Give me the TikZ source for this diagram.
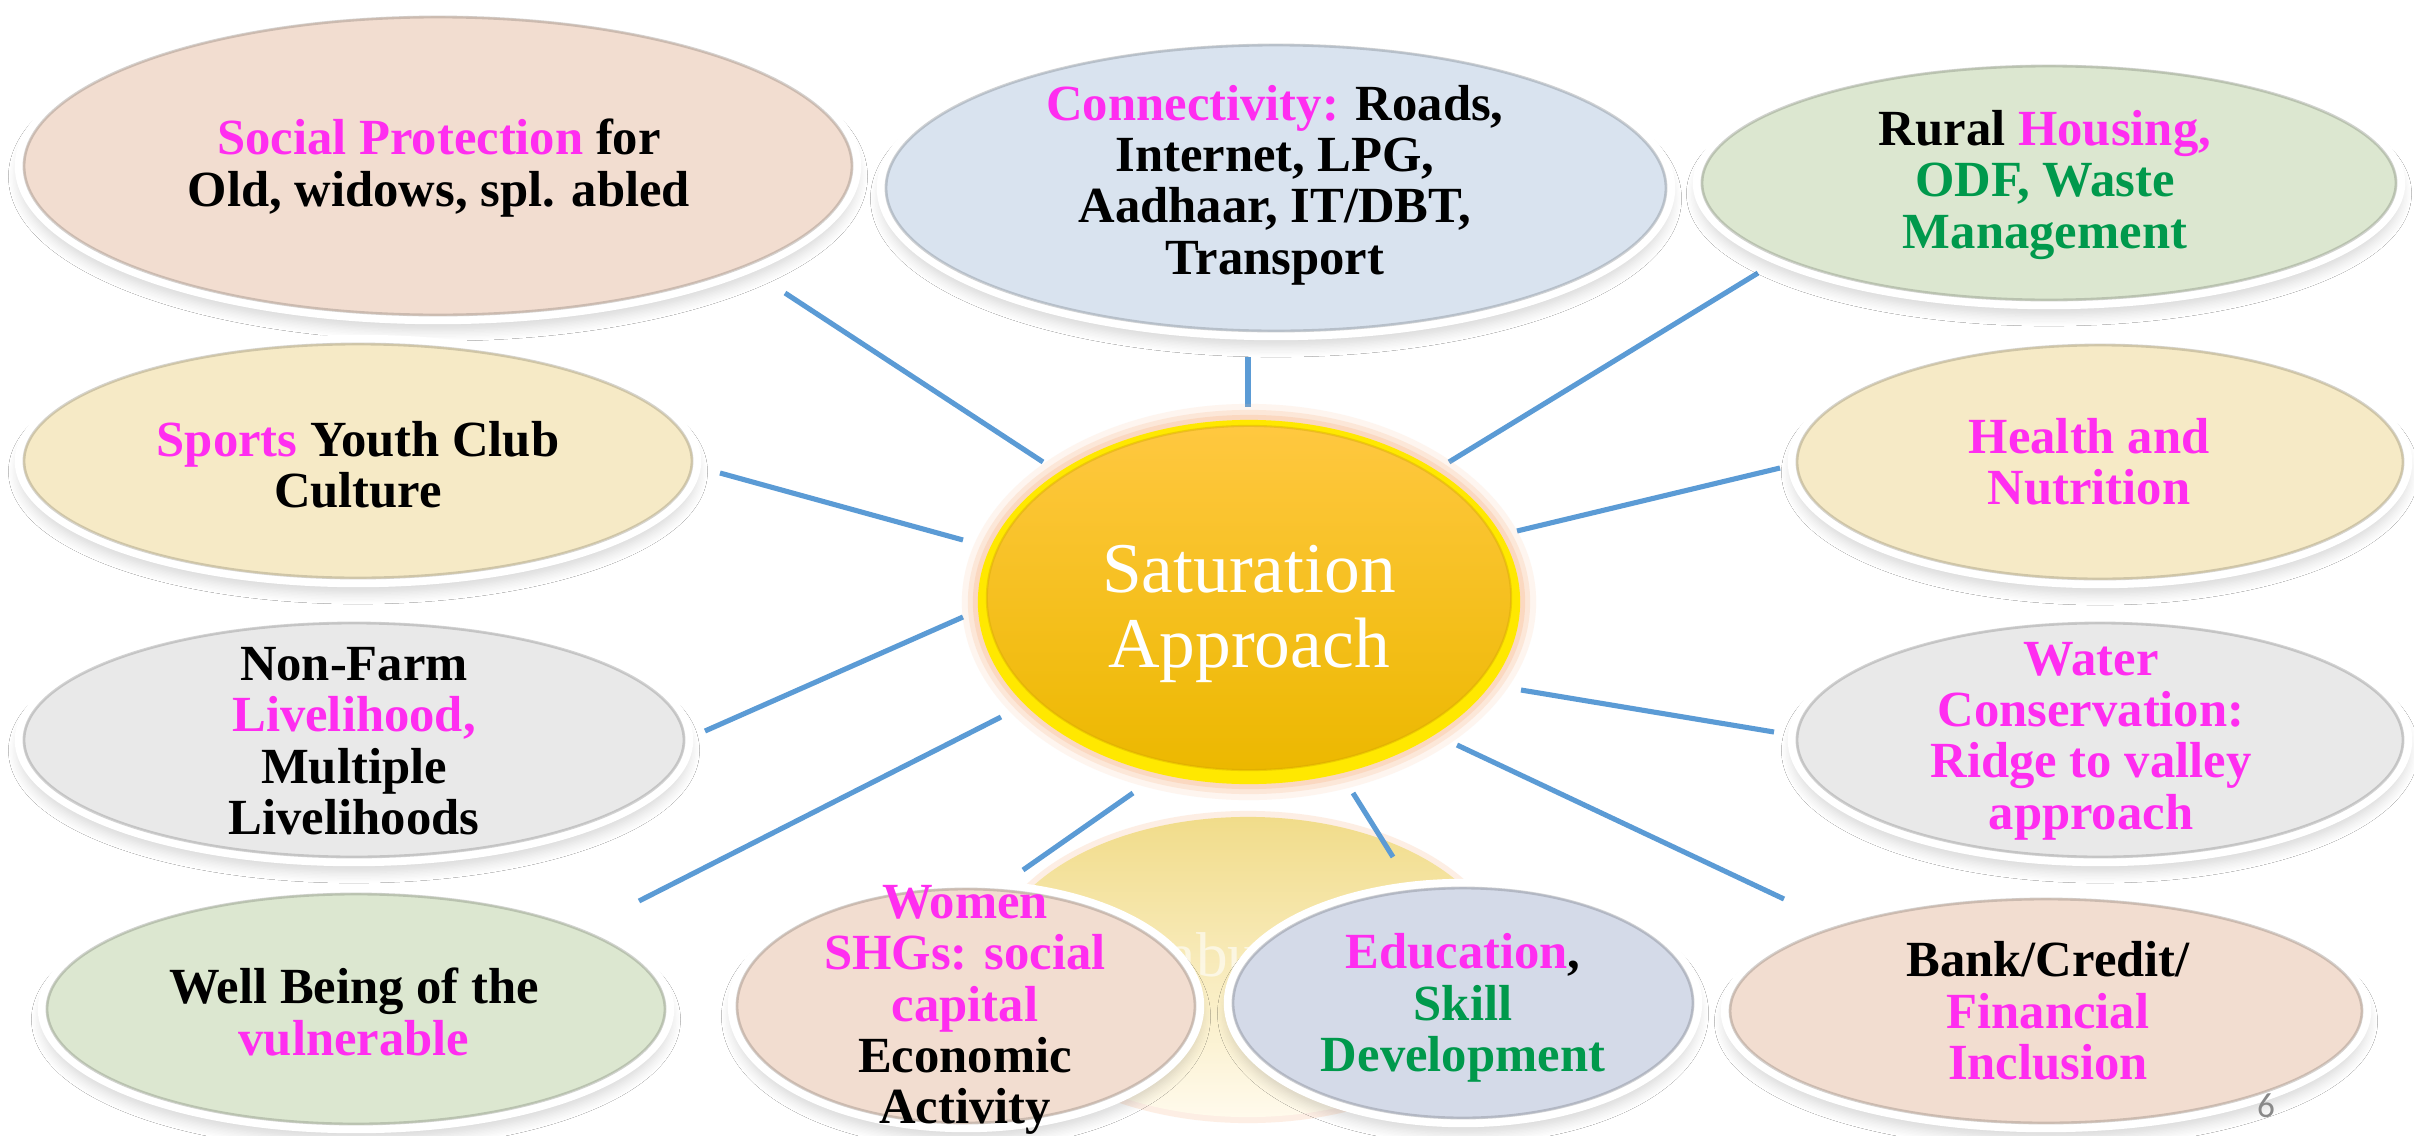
\documentclass[tikz,border=0pt]{standalone}
\usepackage{fontspec}
\setmainfont{Liberation Serif}
\newfontfamily\pnfont{Carlito}
\usetikzlibrary{shapes.geometric,shadows.blur}
\definecolor{pk}{RGB}{255,45,240}
\definecolor{gr}{RGB}{0,153,76}
\definecolor{spoke}{RGB}{91,155,213}
\definecolor{cPeach}{RGB}{242,221,208}
\definecolor{cBlue}{RGB}{217,227,239}
\definecolor{cGreen}{RGB}{220,231,208}
\definecolor{cYel}{RGB}{246,234,198}
\definecolor{cGray}{RGB}{233,233,233}
\definecolor{cEdu}{RGB}{212,218,232}
\definecolor{ringY}{RGB}{255,232,0}
\definecolor{goldTop}{RGB}{255,200,64}
\definecolor{goldBot}{RGB}{236,184,0}
\definecolor{glowC}{RGB}{250,190,150}
\definecolor{hidTop}{RGB}{241,220,138}
\definecolor{hidBot}{RGB}{255,250,236}
\definecolor{pgray}{RGB}{137,137,137}
\newcommand\pk[1]{\textcolor{pk}{#1}}
\newcommand\gr[1]{\textcolor{gr}{#1}}
\newcommand\bubble[6]{%
  \node[bubble, fill=#6, minimum width={(2*#4-8)*0.01cm}, minimum height={(2*#5-8)*0.01cm}] (#1) at (#2,#3) {};
  \node[bevel, draw=#6!55!black, minimum width={(2*#4-18)*0.01cm}, minimum height={(2*#5-18)*0.01cm}] (#1b) at (#2,#3) {};
}
\tikzset{
  bubble/.style={ellipse, draw=white, line width=2.4pt, inner sep=0pt,
    blur shadow={shadow xshift=0pt, shadow yshift=-3pt, shadow blur radius=3pt, shadow blur steps=8, shadow opacity=16}},
  bevel/.style={ellipse, line width=0.8pt, draw opacity=0.35, inner sep=0pt},
  lbl/.style={align=center, inner sep=0pt, font=\bfseries\fontsize{14.4}{14.6}\selectfont},
  spokeline/.style={draw=spoke, line width=1.45pt},
  plainell/.style={ellipse, inner sep=0pt},
}
\begin{document}
\begin{tikzpicture}[x=0.01cm,y=-0.01cm]
\useasboundingbox (0,0) rectangle (2414,1136);
\fill[white] (0,0) rectangle (2414,1136);

% faded hidden ellipse
\node[plainell, fill=glowC, opacity=0.25, minimum width=5.22cm, minimum height=3.12cm] (hidglow) at (1248,967) {};
\node[plainell, top color=hidTop, bottom color=hidBot, minimum width=5.1cm, minimum height=3.0cm] (hidden) at (1248,967) {};
\node[anchor=base west, inner sep=0pt, text=white, text opacity=0.6, font=\fontsize{18}{18}\selectfont] (hidtxt) at (1111,976) {Jhabua};

% spokes
\coordinate (s1a) at (785,293);  \coordinate (s1b) at (1043,462);
\coordinate (s2a) at (1248,357); \coordinate (s2b) at (1248,407);
\coordinate (s3a) at (1758,273); \coordinate (s3b) at (1449,462);
\coordinate (s4a) at (720,473);  \coordinate (s4b) at (963,540);
\coordinate (s5a) at (1780,468); \coordinate (s5b) at (1517,531);
\coordinate (s6a) at (705,731);  \coordinate (s6b) at (963,617);
\coordinate (s7a) at (1774,732); \coordinate (s7b) at (1521,690);
\coordinate (s8a) at (639,901);  \coordinate (s8b) at (1001,717);
\coordinate (s9a) at (1023,870); \coordinate (s9b) at (1133,793);
\coordinate (s10a) at (1393,857); \coordinate (s10b) at (1353,793);
\coordinate (s11a) at (1784,899); \coordinate (s11b) at (1457,745);
\foreach \i in {1,...,11} \draw[spokeline] (s\i a) -- (s\i b);

% centre
\node[plainell, fill=glowC, opacity=0.15, minimum width=5.74cm, minimum height=3.96cm] (cg1) at (1249,602) {};
\node[plainell, fill=glowC, opacity=0.25, minimum width=5.62cm, minimum height=3.84cm] (cg2) at (1249,602) {};
\node[plainell, fill=glowC, opacity=0.35, minimum width=5.52cm, minimum height=3.74cm] (cg3) at (1249,602) {};
\node[plainell, fill=ringY, minimum width=5.42cm, minimum height=3.64cm] (center) at (1249,602) {};
\node[plainell, top color=goldTop, bottom color=goldBot, draw=goldBot!90!black, draw opacity=0.4, line width=0.6pt, minimum width=5.24cm, minimum height=3.44cm] (centerin) at (1249,598) {};
\node[align=center, inner sep=0pt, text=white, font=\fontsize{20.3}{21.3}\selectfont] (ctxt) at (1249,614) {Saturation\\Approach};

% bubbles
\bubble{social}{438}{166}{423}{158}{cPeach}
\bubble{conn}{1276}{188}{399}{152}{cBlue}
\bubble{rural}{2049}{183}{356}{126}{cGreen}
\bubble{sports}{358}{461}{343}{126}{cYel}
\bubble{health}{2100}{462}{312}{126}{cYel}
\bubble{nonfarm}{354}{740}{339}{126}{cGray}
\bubble{water}{2100}{740}{312}{126}{cGray}
\bubble{well}{356}{1009}{318}{124}{cGreen}
\bubble{women}{966}{1006}{238}{126}{cPeach}
\bubble{edu}{1463}{1003}{239}{124}{cEdu}
\bubble{bank}{2046}{1011}{325}{121}{cPeach}

% labels
\node[lbl] (socialT) at (439,168) {\pk{Social Protection} for\\Old, widows, spl. abled};
\node[lbl] (connT) at (1275,185) {\pk{Connectivity:} Roads,\\Internet, LPG,\\Aadhaar, IT/DBT,\\Transport};
\node[lbl] (ruralT) at (2045,185) {Rural \pk{Housing,}\\\gr{ODF, Waste}\\\gr{Management}};
\node[lbl] (sportsT) at (358,465) {\pk{Sports} Youth Club\\Culture};
\node[lbl, text=pk] (healthT) at (2089,462) {Health and\\Nutrition};
\node[lbl] (nonfarmT) at (354,741) {Non-Farm\\\pk{Livelihood,}\\Multiple\\Livelihoods};
\node[lbl, text=pk] (waterT) at (2091,741) {Water\\Conservation:\\Ridge to valley\\approach};
\node[lbl] (wellT) at (354,1012) {Well Being of the\\\pk{vulnerable}};
\node[lbl] (womenT) at (965,1010) {\pk{Women}\\\pk{SHGs: social}\\\pk{capital}\\Economic\\Activity};
\node[lbl] (eduT) at (1463,1008) {\pk{Education}, \\\gr{Skill}\\\gr{Development}};
\node[lbl] (bankT) at (2048,1011) {Bank/Credit/\\\pk{Financial}\\\pk{Inclusion}};

\node[inner sep=0pt, text=pgray, font=\pnfont\fontsize{10}{12}\selectfont] (pnum) at (2266,1106) {6};
\end{tikzpicture}
\end{document}
